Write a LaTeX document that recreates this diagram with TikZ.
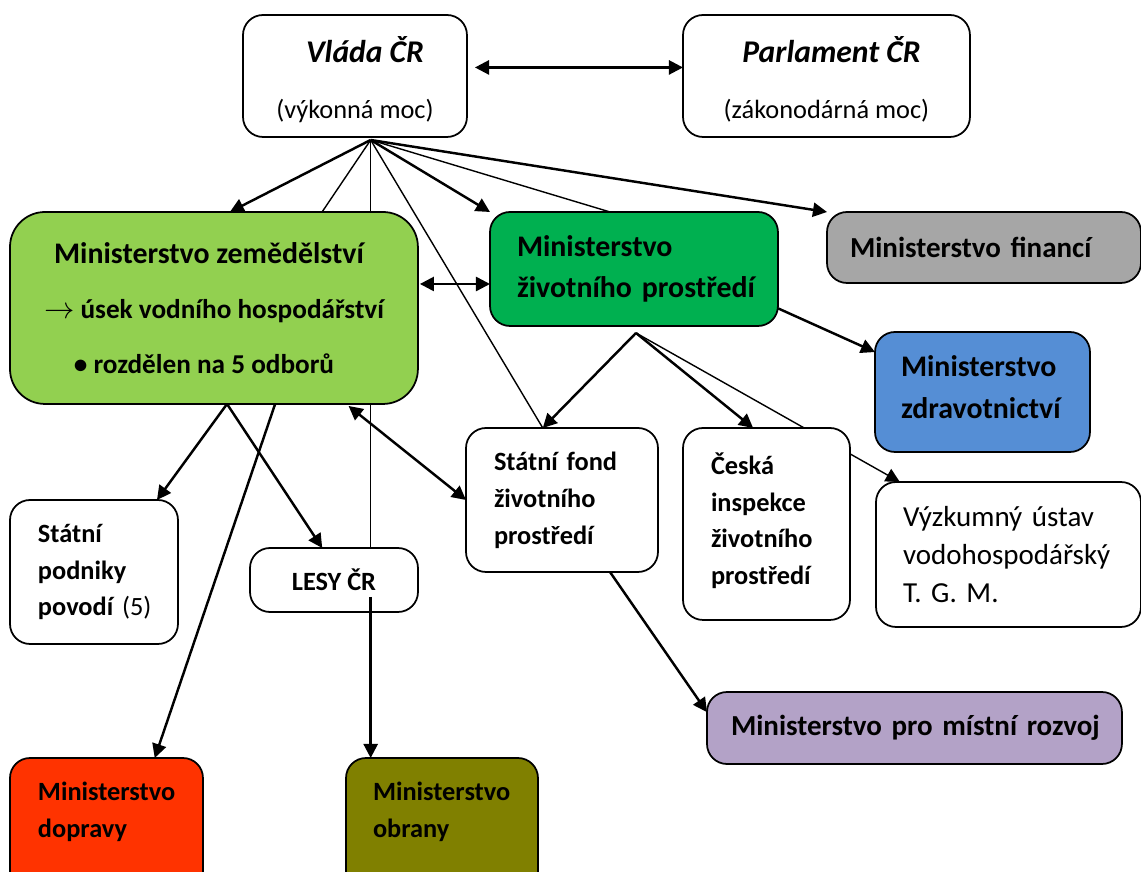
\documentclass[tikz,border=0pt]{standalone}
\usepackage{fontspec}
\setmainfont{Carlito}
\frenchspacing
\usetikzlibrary{arrows.meta,calc,backgrounds}
\definecolor{cMZe}{HTML}{92D050}
\definecolor{cMZP}{HTML}{00B050}
\definecolor{cFin}{HTML}{A6A6A6}
\definecolor{cZdr}{HTML}{558ED5}
\definecolor{cRoz}{HTML}{B3A2C7}
\definecolor{cDop}{HTML}{FF3300}
\definecolor{cObr}{HTML}{808000}
\begin{document}
\begin{tikzpicture}[x=0.02cm,y=-0.02cm,
  box/.style={draw, line width=1pt, rounded corners=0.4cm, fill=white, inner ysep=0pt, outer sep=0pt, anchor=north west},
  lbox/.style={box, align=left, inner xsep=0.54cm},
  big/.style={font=\fontsize{17}{23.5}\selectfont\bfseries},
  mid/.style={font=\fontsize{16.5}{23}\selectfont\bfseries},
  small/.style={font=\fontsize{15}{21}\selectfont\bfseries},
  conn/.style={line width=1.4pt},
  thinc/.style={line width=0.8pt},
  tip/.style={-{Triangle[length=8pt,width=8pt]}},
  dtip/.style={{Triangle[length=8pt,width=8pt]}-{Triangle[length=8pt,width=8pt]}}
]
\useasboundingbox (0,0) rectangle (1141,871);

% nodes
\node[box, minimum width=4.48cm, minimum height=2.44cm, align=center,
      font=\fontsize{15}{18}\selectfont] (vlada) at (243,15)
  {\rule{0pt}{19pt}{\fontsize{18}{18}\selectfont\bfseries\itshape \hspace*{0.4cm}Vláda ČR}\\[14pt] (výkonná moc)};
\node[box, minimum width=5.74cm, minimum height=2.44cm, align=center,
      font=\fontsize{15}{18}\selectfont] (parl) at (683,15)
  {\rule{0pt}{19pt}{\fontsize{18}{18}\selectfont\bfseries\itshape \hspace*{0.2cm}Parlament ČR}\\[14pt] (zákonodárná moc)};

\node[box, fill=cMZe, rounded corners=0.7cm, minimum width=8.16cm, minimum height=3.84cm,
      align=center, font=\fontsize{17}{31.5}\selectfont\bfseries] (mze) at (10,212)
  {\hspace*{-0.2cm}Ministerstvo zemědělství\\
   {\fontsize{15.5}{31.5}\selectfont{\fontsize{19}{19}\selectfont$\rightarrow$} úsek vodního hospodářství\hspace*{0.4cm}}\\
   {\fontsize{15.5}{31.5}\selectfont\textbullet\ rozdělen na 5 odborů\hspace*{0.4cm}}};

\node[lbox, big, fill=cMZP, text width=4.68cm, minimum height=2.28cm] (mzp) at (490,212)
  {Ministerstvo\\ \mbox{životního prostředí}};
\node[lbox, mid, fill=cFin, inner xsep=0.46cm, text width=5.36cm, minimum height=1.42cm] (fin) at (827,212)
  {\mbox{Ministerstvo financí}};
\node[lbox, big, fill=cZdr, inner xsep=0.52cm, text width=3.26cm, minimum height=2.4cm] (zdr) at (875,332)
  {Ministerstvo\\ zdravotnictví\\[-17.7pt]\mbox{}};

\node[lbox, small, inner xsep=0.56cm, text width=2.72cm, minimum height=2.88cm] (fond) at (466,428)
  {\mbox{Státní fond}\\ životního\\ prostředí};
\node[lbox, small, inner xsep=0.56cm, text width=2.22cm, minimum height=3.84cm] (ceska) at (683,428)
  {Česká\\ inspekce\\ životního\\ prostředí\\[-15pt]\mbox{}};
\node[lbox, font=\fontsize{16.5}{21.8}\selectfont, inner xsep=0.54cm, text width=4.22cm, minimum height=2.9cm] (vuv) at (876,482)
  {\mbox{Výzkumný ústav}\\ vodohospodářský\\ T. G. M.};

\node[lbox, small, inner xsep=0.56cm, text width=2.24cm, minimum height=2.88cm] (pov) at (10,500)
  {Státní\\ podniky\\ \mbox{povodí {\mdseries(5)}}};
\node[box, small, minimum width=3.36cm, minimum height=1.28cm, align=center] (lesy) at (250,548)
  {LESY ČR};

\node[lbox, mid, fill=cRoz, inner xsep=0.48cm, text width=7.34cm, minimum height=1.44cm] (roz) at (707,692)
  {\mbox{Ministerstvo pro místní rozvoj}};

\node[lbox, small, fill=cDop, inner xsep=0.56cm, text width=2.74cm, minimum height=2.8cm] (dop) at (10,758)
  {Ministerstvo\\ dopravy\\ \mbox{}};
\node[lbox, small, fill=cObr, inner xsep=0.54cm, text width=2.76cm, minimum height=2.8cm] (obr) at (346,758)
  {Ministerstvo\\ obrany\\ \mbox{}};

% connector end points
\coordinate (hub) at ($(vlada.south west)!0.57!(vlada.south east)+(0,3)$);
\coordinate (mzeT1) at ($(mze.north west)!0.539!(mze.north east)$);
\coordinate (mzeT2) at ($(mze.north west)!0.765!(mze.north east)$);
\coordinate (fondT) at ($(fond.north west)!0.40!(fond.north east)$);
\coordinate (mzpT) at ($(mzp.north west)!0.417!(mzp.north east)$);
\coordinate (lesyT) at (hub |- lesy.north);
\coordinate (vR) at ($(vlada.north east)!0.43!(vlada.south east)+(8,0)$);
\coordinate (pL) at (vR -| parl.west);
\coordinate (mzeR) at ($(mze.north east)!0.375!(mze.south east)+(2,0)$);
\coordinate (mzpL) at (mzeR -| mzp.west);
\coordinate (mzpR) at ($(mzp.north east)!0.845!(mzp.south east)$);
\coordinate (zdrL) at ($(zdr.north west)!0.167!(zdr.south west)$);
\coordinate (hub2) at ($(mzp.south west)!0.507!(mzp.south east)+(0,7)$);
\coordinate (ceskaT) at ($(ceska.north west)!0.42!(ceska.north east)$);
\coordinate (vuvT) at ($(vuv.north west)!0.09!(vuv.north east)$);
\coordinate (hub3) at ($(mze.south west)!0.532!(mze.south east)$);
\coordinate (povT) at ($(pov.north west)!0.875!(pov.north east)$);
\coordinate (lesyT2) at ($(lesy.north west)!0.43!(lesy.north east)$);
\coordinate (mzeB2) at ($(mze.south west)!0.65!(mze.south east)$);
\coordinate (dopT) at ($(dop.north west)!0.75!(dop.north east)$);
\coordinate (mzeB3) at ($(mze.south west)!0.83!(mze.south east)+(0,2)$);
\coordinate (fondB) at ($(fond.south west)!0.75!(fond.south east)$);
\coordinate (rozL) at ($(roz.north west)!0.28!(roz.south west)$);
\coordinate (lesyIn) at ($(lesy.south -| hub)+(0,-15)$);
\coordinate (obrT) at (hub |- obr.north);

\begin{pgfonlayer}{background}
  \draw[conn, dtip] (vR) -- (pL);
  \draw[conn, tip] (hub) -- (mzeT1);
  \draw[thinc] (hub) -- (mzeT2);
  \draw[thinc] (hub) -- (lesyT);
  \draw[thinc] (hub) -- (fondT);
  \draw[conn, tip] (hub) -- (mzp.north west);
  \draw[thinc] (hub) -- (mzpT);
  \draw[conn, tip] (hub) -- (fin.north west);
  \draw[conn, dtip] (mzeR) -- (mzpL);
  \draw[conn, tip] (mzpR) -- (zdrL);
  \draw[conn, tip] (hub2) -- (fondT);
  \draw[conn, tip] (hub2) -- (ceskaT);
  \draw[thinc, tip] (hub2) -- (vuvT);
  \draw[conn, tip] (hub3) -- (povT);
  \draw[conn, tip] (hub3) -- (lesyT2);
  \draw[conn, tip] (mzeB2) -- (dopT);
  \draw[conn, dtip] (mzeB3) -- (fond.west);
  \draw[conn, tip] (fondB) -- (rozL);
\end{pgfonlayer}
\draw[conn, tip] (lesyIn) -- (obrT);
\end{tikzpicture}
\end{document}
